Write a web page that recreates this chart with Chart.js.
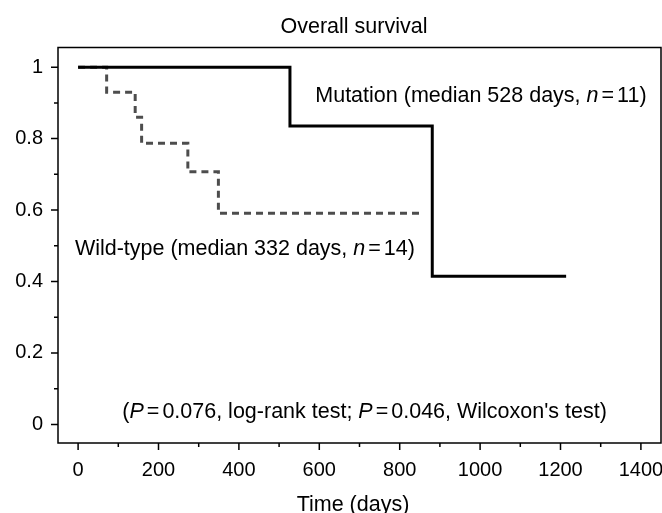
<!DOCTYPE html>
<html><head><meta charset="utf-8">
<script src="https://cdn.jsdelivr.net/npm/chart.js@4.4.1/dist/chart.umd.min.js"></script>
<style>html,body{margin:0;padding:0;background:#fff;} canvas{display:block;}</style>
</head><body>
<canvas id="c" width="662" height="513"></canvas>
<script>
// ---- data ----
const mutationDays = [0, 527, 881, 1214];
const mutationSurvival = [1, 0.835, 0.415, 0.415];
const wildDays = [0, 71, 142, 158, 273, 349, 855];
const wildSurvival = [1, 0.93, 0.86, 0.787, 0.707, 0.591, 0.591];
const xTickValues = [0, 200, 400, 600, 800, 1000, 1200, 1400];
const xTickLabels = ['0', '200', '400', '600', '800', '1000', '1200', '1400'];
const xMinorTicks = [100, 300, 500, 700, 900, 1100, 1300];
const yTickValues = [0, 0.2, 0.4, 0.6, 0.8, 1];
const yTickLabels = ['0', '0.2', '0.4', '0.6', '0.8', '1'];
const yMinorTicks = [0.1, 0.3, 0.5, 0.7, 0.9];
const titleText = 'Overall survival';
const xAxisTitle = 'Time (days)';
const mutationLabel = [['Mutation (median 528 days, ', false], ['n', true], ['=', false], ['11)', false]];
const wildLabel = [['Wild-type (median 332 days, ', false], ['n', true], ['=', false], ['14)', false]];
const pLabel = [['(', false], ['P', true], ['=', false], ['0.076, log-rank test; ', false], ['P', true], ['=', false], ['0.046, Wilcoxon\'s test)', false]];

const FONT = '"Liberation Sans", Arial, Helvetica, sans-serif';

function drawRich(ctx, parts, x, y, size) {
  let cx = x;
  parts.forEach(([t, it]) => {
    ctx.font = (it ? 'italic ' : '') + size + 'px ' + FONT;
    if (t === '=') cx += 3;
    ctx.fillText(t, cx, y);
    cx += ctx.measureText(t).width;
    if (t === '=') cx += 3;
  });
}

const decor = {
  id: 'decor',
  afterDraw(chart) {
    const ctx = chart.ctx, a = chart.chartArea;
    const xs = chart.scales.x, ys = chart.scales.y;
    ctx.save();
    ctx.strokeStyle = '#000';
    ctx.lineWidth = 1.5;
    ctx.strokeRect(a.left, a.top, a.right - a.left, a.bottom - a.top);
    ctx.beginPath();
    xTickValues.forEach(v => { const p = xs.getPixelForValue(v); ctx.moveTo(p, a.bottom); ctx.lineTo(p, a.bottom + 7); });
    xMinorTicks.forEach(v => { const p = xs.getPixelForValue(v); ctx.moveTo(p, a.bottom); ctx.lineTo(p, a.bottom + 4); });
    yTickValues.forEach(v => { const p = ys.getPixelForValue(v); ctx.moveTo(a.left, p); ctx.lineTo(a.left - 7, p); });
    yMinorTicks.forEach(v => { const p = ys.getPixelForValue(v); ctx.moveTo(a.left, p); ctx.lineTo(a.left - 4, p); });
    ctx.stroke();
    ctx.fillStyle = '#000';
    ctx.textBaseline = 'alphabetic';
    ctx.textAlign = 'center';
    ctx.font = '21.5px ' + FONT;
    ctx.fillText(titleText, 354, 33);
    ctx.fillText(xAxisTitle, 353, 511);
    ctx.textAlign = 'left';
    drawRich(ctx, mutationLabel, xs.getPixelForValue(590), ys.getPixelForValue(0.902), 21.5);
    drawRich(ctx, wildLabel, xs.getPixelForValue(-8), ys.getPixelForValue(0.474), 21.5);
    drawRich(ctx, pLabel, xs.getPixelForValue(110), ys.getPixelForValue(0.018), 21.5);
    ctx.restore();
  }
};

new Chart(document.getElementById('c'), {
  type: 'line',
  data: {
    datasets: [
      {
        label: 'Mutation',
        data: mutationDays.map((d, i) => ({ x: d, y: mutationSurvival[i] })),
        borderColor: '#000', borderWidth: 3, stepped: 'before',
        pointRadius: 0, fill: false, borderCapStyle: 'butt', borderJoinStyle: 'miter'
      },
      {
        label: 'Wild-type',
        data: wildDays.map((d, i) => ({ x: d, y: wildSurvival[i] })),
        borderColor: '#4d4d4d', borderWidth: 3, borderDash: [7, 5], stepped: 'before',
        pointRadius: 0, fill: false, borderCapStyle: 'butt', borderJoinStyle: 'miter'
      }
    ]
  },
  options: {
    responsive: false, animation: false,
    layout: { padding: { top: 47.5, right: 1, left: 0, bottom: 0 } },
    plugins: { legend: { display: false }, tooltip: { enabled: false }, title: { display: false } },
    scales: {
      x: {
        type: 'linear', min: -50, max: 1450,
        grid: { display: false, drawTicks: false }, border: { display: false },
        afterBuildTicks: s => { s.ticks = xTickValues.map(v => ({ value: v })); },
        afterFit: s => { s.height = 70; s.paddingLeft = 0; s.paddingRight = 0; },
        ticks: {
          color: '#000', padding: 15, maxRotation: 0, autoSkip: false,
          font: { family: FONT, size: 20 },
          callback: (v) => xTickLabels[xTickValues.indexOf(v)]
        }
      },
      y: {
        type: 'linear', min: -0.052, max: 1.055,
        grid: { display: false, drawTicks: false }, border: { display: false },
        afterBuildTicks: s => { s.ticks = yTickValues.map(v => ({ value: v })); },
        afterFit: s => { s.width = 58; s.paddingTop = 0; s.paddingBottom = 0; },
        ticks: {
          color: '#000', padding: 15, autoSkip: false,
          font: { family: FONT, size: 20 },
          callback: (v) => yTickLabels[yTickValues.indexOf(v)]
        }
      }
    }
  },
  plugins: [decor]
});
</script>
</body></html>
